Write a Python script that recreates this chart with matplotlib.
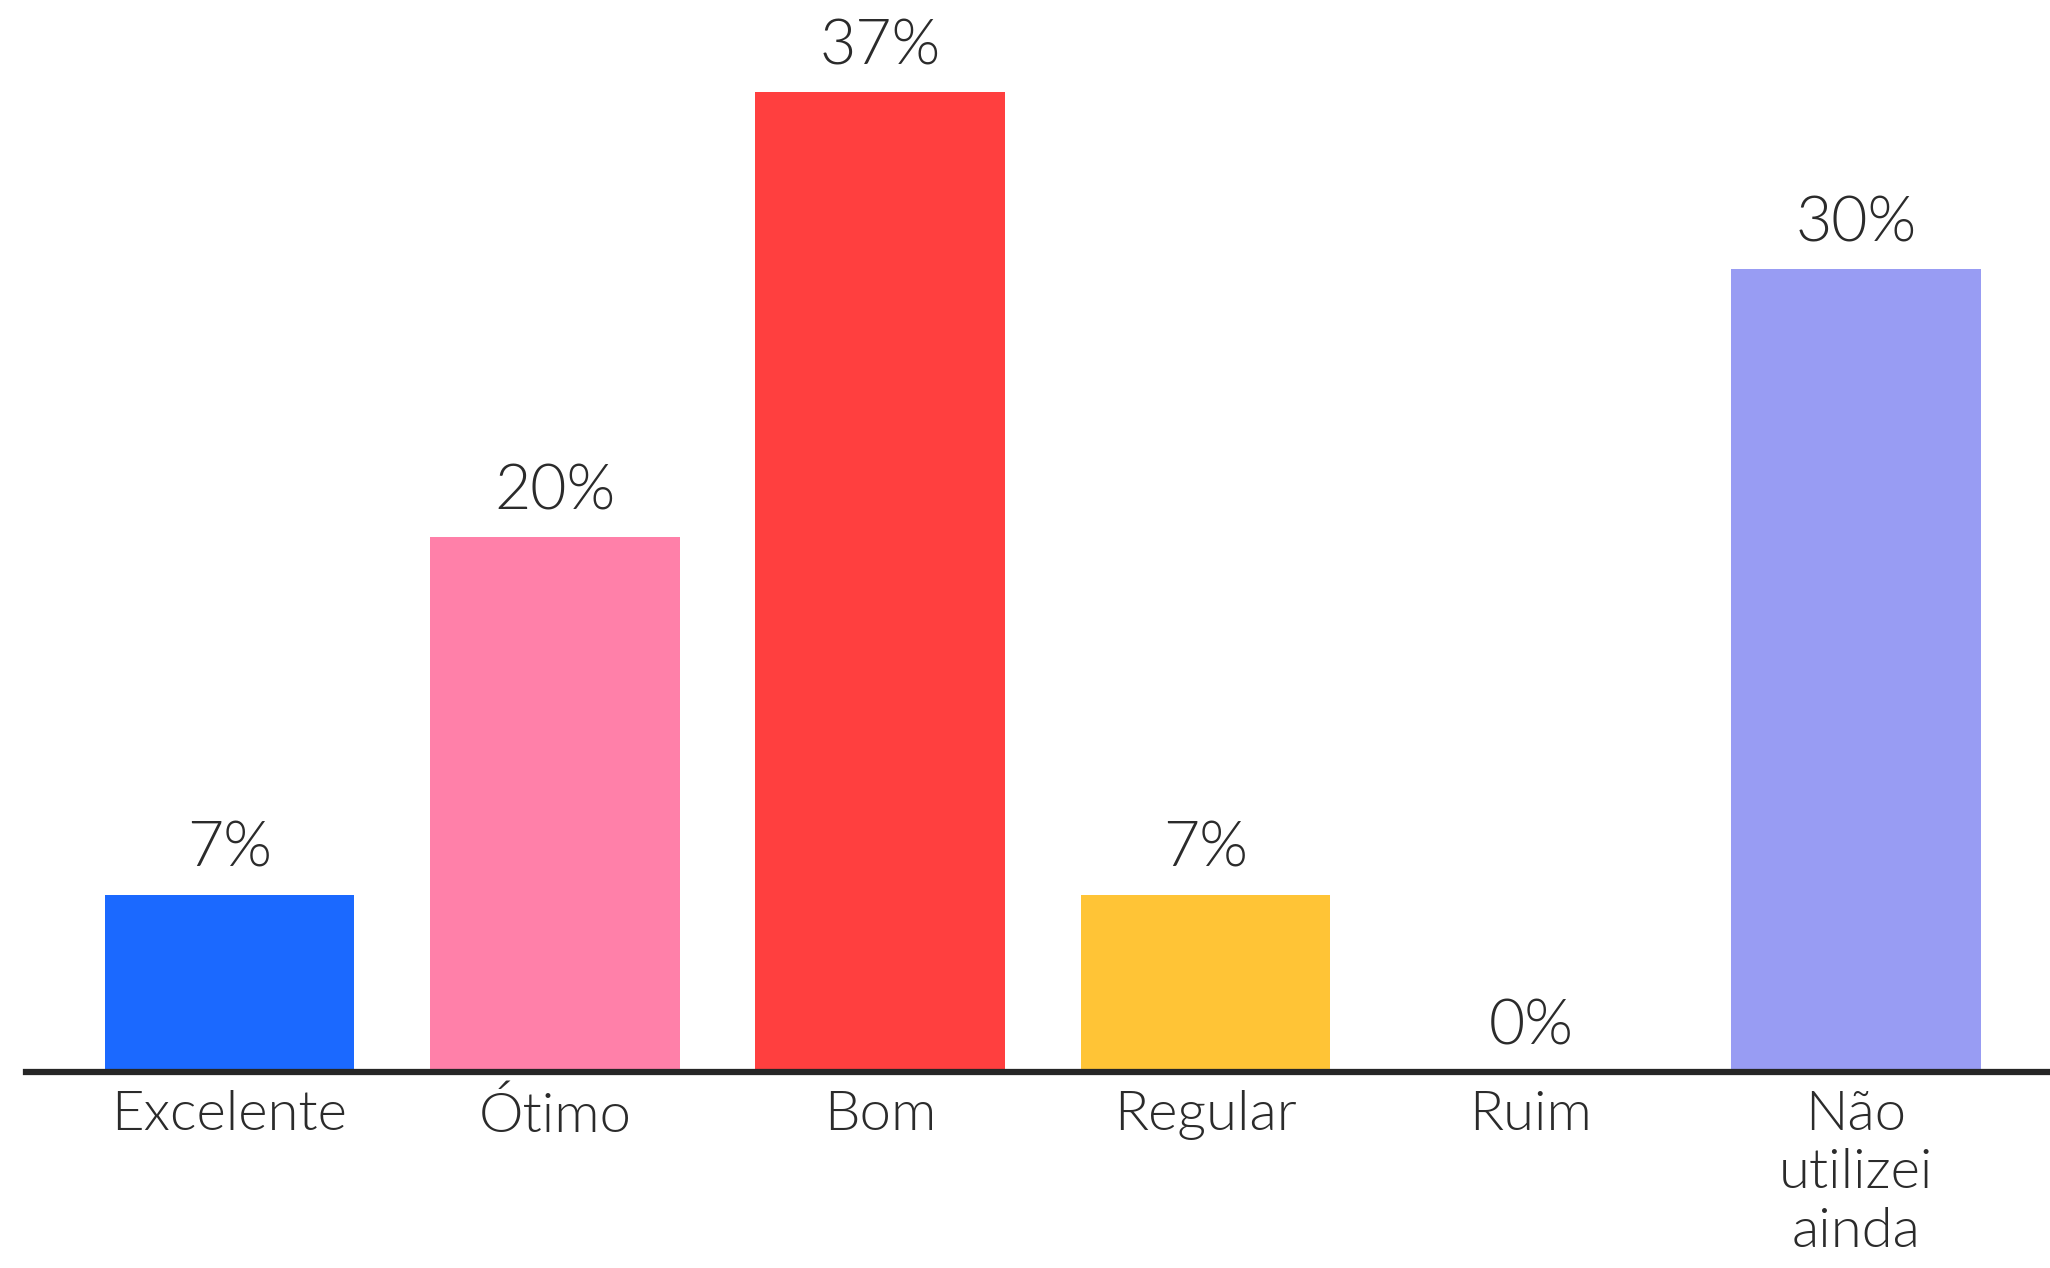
import matplotlib.pyplot as plt

categories = ['Excelente', 'Ótimo', 'Bom', 'Regular', 'Ruim', 'Não\nutilizei\nainda']
values = [6.7, 20.2, 37.0, 6.7, 0, 30.3]
labels = ['7%', '20%', '37%', '7%', '0%', '30%']
colors = ['#1B69FF', '#FF80A9', '#FF3F3F', '#FFC436', '#FFFFFF', '#989CF3']

plt.rcParams['font.family'] = ['Lato', 'DejaVu Sans']
text_color = '#2b2b2b'

fig = plt.figure(figsize=(20.5, 12.68), dpi=100)
ax = fig.add_axes([0, 0, 1, 1])

x = range(len(categories))
bars = ax.bar(x, values, width=0.768, color=colors, zorder=2)

# value labels above each bar
for bar, v, lab in zip(bars, values, labels):
    ax.annotate(lab, (bar.get_x() + bar.get_width() / 2, v),
                xytext=(0, 12), textcoords='offset points',
                ha='center', va='bottom', fontsize=45, color=text_color,
                fontweight=300)

# category labels under the baseline
for xi, c in zip(x, categories):
    ax.annotate(c, (xi, 0), xytext=(0, -13), textcoords='offset points',
                ha='center', va='top', fontsize=40.5, color=text_color,
                linespacing=1.21, fontweight=300)

ax.axhline(0, xmin=0.0127, xmax=1, color='#262626', linewidth=4.5, zorder=3)

ax.set_xlim(-0.7055, 5.596)
ax.set_ylim(-7.40, 40.47)
ax.axis('off')

fig.savefig('out.png', dpi=100)
